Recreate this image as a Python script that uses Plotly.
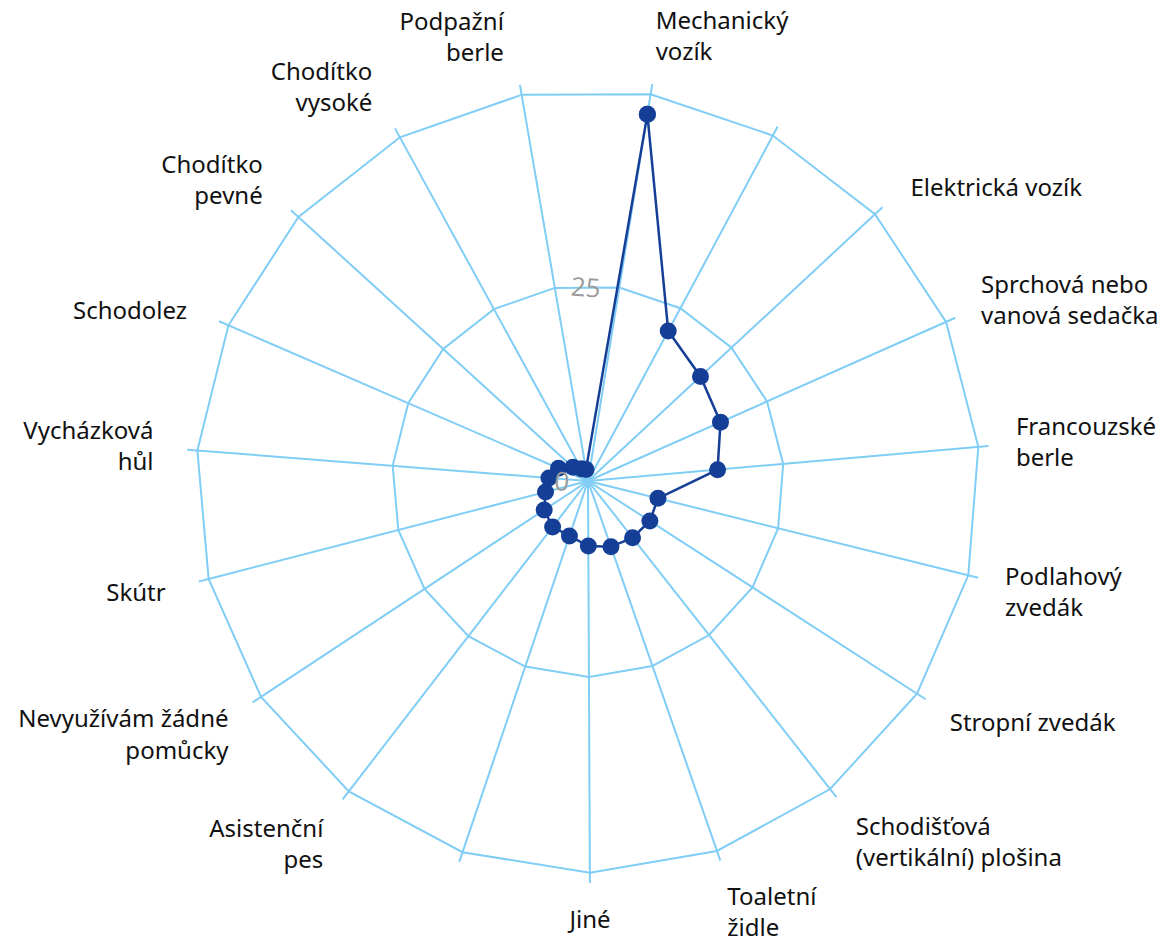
import plotly.graph_objects as go

categories = [
    "Mechanický vozík",
    "(bez popisku 1)",
    "Elektrická vozík",
    "Sprchová nebo vanová sedačka",
    "Francouzské berle",
    "Podlahový zvedák",
    "Stropní zvedák",
    "Schodišťová (vertikální) plošina",
    "Toaletní židle",
    "Jiné",
    "(bez popisku 2)",
    "Asistenční pes",
    "Nevyužívám žádné pomůcky",
    "Skútr",
    "Vycházková hůl",
    "Schodolez",
    "Chodítko pevné",
    "Chodítko vysoké",
    "Podpažní berle",
]
values = [47.4, 21.7, 19.6, 18.5, 16.6, 9.2, 9.4, 9.2, 8.9, 8.3,
          7.4, 7.4, 6.7, 5.6, 5.0, 4.1, 2.6, 1.8, 1.5]

# displayed tick labels (line breaks as in the reference, non-breaking spaces as padding)
N1, N2 = "\u00a0", "\u00a0\u00a0"
tick_labels = [
    "Mechanický<br>vozík",
    "",
    N2 + "Elektrická vozík",
    N1 + "Sprchová nebo<br>" + N1 + "vanová sedačka",
    N1 + "Francouzské<br>" + N1 + "berle",
    N1 + "Podlahový<br>" + N1 + "zvedák",
    N1 + "Stropní zvedák",
    N1 + "Schodišťová<br>" + N1 + "(vertikální) plošina",
    "Toaletní<br>židle",
    "Jiné",
    "",
    "Asistenční" + N1 + "<br>pes" + N1,
    "Nevyužívám žádné" + N1 + "<br>pomůcky" + N1,
    "Skútr" + N2,
    "Vycházková" + N2 + "<br>hůl" + N2,
    "Schodolez" + N2,
    "Chodítko" + N2 + "<br>pevné" + N2,
    "Chodítko" + N2 + "<br>vysoké" + N2,
    "Podpažní" + N2 + "<br>berle" + N2,
]

radial_tickvals = [0, 25, 50]
radial_ticktext = ["0", "25", ""]

GRID = "rgb(128,205,245)"
SERIES = "#153f96"

theta_closed = categories + categories[:1]
r_closed = values + values[:1]

fig = go.Figure()
fig.add_trace(go.Scatterpolar(
    r=r_closed,
    theta=theta_closed,
    mode="lines+markers",
    line=dict(color=SERIES, width=2.5),
    marker=dict(color=SERIES, size=17),
    showlegend=False,
    hoverinfo="skip",
))

fig.update_layout(
    width=1170,
    height=936,
    margin=dict(l=178, r=188, t=71, b=61),
    paper_bgcolor="white",
    plot_bgcolor="white",
    font=dict(family="Noto Sans, Open Sans, sans-serif", color="#111111", size=24),
    polar=dict(
        domain=dict(x=[0, 1], y=[0, 1]),
        bgcolor="white",
        gridshape="linear",
        angularaxis=dict(
            type="category",
            categoryorder="array",
            categoryarray=categories,
            tickmode="array",
            tickvals=categories,
            ticktext=tick_labels,
            direction="clockwise",
            rotation=80.8,
            showline=False,
            showgrid=True,
            gridcolor=GRID,
            gridwidth=2,
            ticks="outside",
            ticklen=16,
            tickcolor="rgba(0,0,0,0)",
            tickfont=dict(size=24, color="#111111", family="Noto Sans, Open Sans, sans-serif"),
        ),
        radialaxis=dict(
            range=[0, 51.3],
            tickmode="array",
            tickvals=radial_tickvals,
            ticktext=radial_ticktext,
            showline=False,
            showgrid=True,
            gridcolor=GRID,
            gridwidth=2,
            ticks="",
            angle=85,
            tickangle=85,
            side="counterclockwise",
            tickfont=dict(size=26, color="#9a9a9a", family="Open Sans, sans-serif"),
        ),
    ),
)

fig.write_html("out.html")
